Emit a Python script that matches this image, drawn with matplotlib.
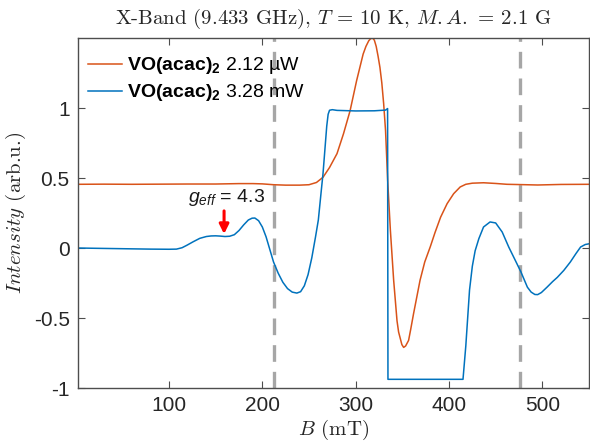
import matplotlib
matplotlib.use("Agg")
import matplotlib.pyplot as plt

plt.rcParams.update({
    "font.family": "Liberation Sans",
    "mathtext.fontset": "custom",
    "mathtext.rm": "Liberation Sans",
    "mathtext.it": "Liberation Sans:italic",
    "mathtext.bf": "Liberation Sans:bold",
    "axes.unicode_minus": False,
})

# EPR spectra of VO(acac)2, X-band, 10 K
field_low = [2, 30, 60, 90, 120, 150, 175, 190, 200, 212, 225, 240, 250, 258,
             265, 272, 280, 287, 294, 301, 308, 311, 314, 316, 318, 320, 322,
             324, 326, 328, 330, 332, 334.3, 337.2, 340.7, 344.3, 346, 349.5,
             351.4, 353.5, 356.7, 359, 362, 365.5, 369, 374, 380, 385, 391,
             398, 405, 412, 418, 425, 437, 450, 462, 476, 495, 520, 550]
signal_low = [0.455, 0.456, 0.455, 0.456, 0.457, 0.457, 0.46, 0.46, 0.458,
              0.452, 0.449, 0.449, 0.452, 0.468, 0.505, 0.575, 0.674, 0.817,
              0.98, 1.195, 1.385, 1.44, 1.48, 1.495, 1.5, 1.485, 1.44, 1.37,
              1.29, 1.18, 1.03, 0.84, 0.48, 0.126, -0.23, -0.52, -0.6, -0.69,
              -0.71, -0.7, -0.66, -0.58, -0.47, -0.35, -0.23, -0.1, 0.01,
              0.11, 0.22, 0.317, 0.388, 0.436, 0.455, 0.463, 0.466, 0.461,
              0.455, 0.453, 0.45, 0.454, 0.455]

field_high = [2, 20, 40, 60, 80, 100, 108, 114, 119, 126, 133, 140, 145, 150,
              155, 160, 165, 170, 175, 180, 185, 189, 192, 196, 200, 204, 208,
              212, 217, 222, 227, 232, 237, 241, 245, 249, 253, 257, 260, 263,
              265, 267, 269, 270.5, 272, 275, 280, 300, 320, 332, 334.2, 334.6,
              415, 418, 420, 422, 425, 428, 432, 437, 444, 450, 457, 464, 471,
              477, 484, 488, 492, 495, 499, 505, 511, 516, 523, 530, 536, 541,
              546, 550]
signal_high = [0.0, -0.002, -0.004, -0.006, -0.008, -0.009, -0.008, 0.002,
               0.019, 0.045, 0.069, 0.082, 0.086, 0.087, 0.085, 0.082, 0.084,
               0.095, 0.125, 0.165, 0.2, 0.213, 0.214, 0.195, 0.15, 0.08,
               -0.01, -0.1, -0.18, -0.245, -0.29, -0.315, -0.322, -0.312,
               -0.27, -0.19, -0.07, 0.08, 0.2, 0.4, 0.53, 0.7, 0.87, 0.955,
               0.984, 0.988, 0.983, 0.979, 0.98, 0.985, 0.996, -0.938, -0.938,
               -0.7, -0.5, -0.3, -0.13, -0.02, 0.067, 0.15, 0.186, 0.179,
               0.114, 0.007, -0.088, -0.17, -0.28, -0.315, -0.332, -0.333,
               -0.318, -0.28, -0.24, -0.21, -0.16, -0.1, -0.04, 0.007, 0.025,
               0.03]

label_low = r"$\mathbf{VO(acac)}_{\mathbf{2}}$ 2.12 µW"
label_high = r"$\mathbf{VO(acac)}_{\mathbf{2}}$ 3.28 mW"

ref_fields = [212.5, 476.5]
geff_field = 159
geff_label = r"$g_{eff}$ = 4.3"

x_ticks = [100, 200, 300, 400, 500]
y_ticks = [-1, -0.5, 0, 0.5, 1]

c_orange = "#D95319"
c_blue = "#0072BD"

fig = plt.figure(figsize=(5.9, 4.44), dpi=100)
ax = fig.add_axes([78 / 590, 56 / 444, 511 / 590, 350 / 444])

ax.plot(field_low, signal_low, color=c_orange, lw=1.1, label=label_low)
ax.plot(field_high, signal_high, color=c_blue, lw=1.1, label=label_high)

for xf in ref_fields:
    ax.axvline(xf, color="#A6A6A6", lw=2.4, ls=(0, (5, 3)), zorder=0)

ax.annotate("", xy=(geff_field, 0.10), xytext=(geff_field, 0.265),
            arrowprops=dict(arrowstyle="-|>", color="#FF0000", lw=2.2,
                            mutation_scale=14, shrinkA=0, shrinkB=0))
ax.text(geff_field + 3, 0.36, geff_label, fontsize=14, ha="center",
        va="center", color="#1a1a1a")

ax.set_xlim(2.5, 550)
ax.set_ylim(-1, 1.5)
ax.set_xticks(x_ticks)
ax.set_yticks(y_ticks)
ax.set_yticklabels(["-1", "-0.5", "0", "0.5", "1"])

ax.tick_params(direction="in", length=5, width=0.8, top=True, right=True,
               labelsize=15, pad=6, color="#4d4d4d", labelcolor="#262626")
for s in ax.spines.values():
    s.set_color("#4d4d4d")
    s.set_linewidth(1.0)

ax.set_title(r"X-Band (9.433 GHz), $T$ = 10 K, $M.A.$ = 2.1 G",
             fontfamily="cmr10", math_fontfamily="cm", fontsize=15, pad=10,
             color="#262626")
ax.set_xlabel(r"$B$ (mT)", fontfamily="cmr10", math_fontfamily="cm",
              fontsize=15, labelpad=2, color="#262626")
ax.set_ylabel(r"$Intensity$ (arb.u.)", fontfamily="cmr10",
              math_fontfamily="cm", fontsize=15, labelpad=4, color="#262626")

ax.legend(loc="upper left", bbox_to_anchor=(0.02, 0.95), frameon=False,
          fontsize=14, handlelength=1.75, handletextpad=0.25,
          labelspacing=0.3, borderpad=0, borderaxespad=0)

fig.savefig("out.png", dpi=100)
